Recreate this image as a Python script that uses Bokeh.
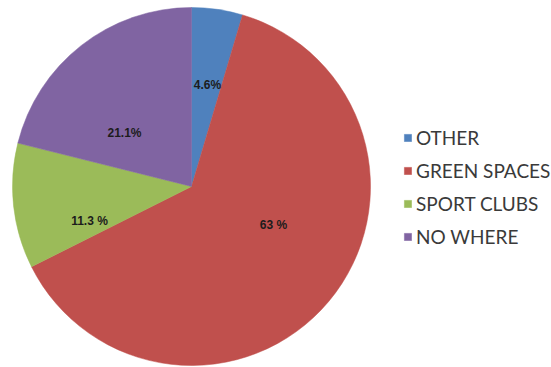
import math
from bokeh.plotting import figure
from bokeh.models import ColumnDataSource, Range1d, Legend, LegendItem
from bokeh.core.properties import value
from bokeh.embed import file_html
from bokeh.resources import INLINE

# ---- data ----
categories = ["OTHER", "GREEN SPACES", "SPORT CLUBS", "NO WHERE"]
shares = [4.6, 63.0, 11.3, 21.1]
pct_labels = ["4.6%", "63 %", "11.3 %", "21.1%"]
colors = ["#4F81BD", "#C0504D", "#9BBB59", "#8064A2"]

# ---- layout constants (pixels) ----
W, H = 551, 367
CX, CY = 191, 181
R = 179
# label offsets from the pie centre (layout only)
label_dx = [16, 82, -102, -67]
label_dy = [102, -38, -34, 54]

total = sum(shares)
starts, ends = [], []
cum = 0.0
for s in shares:
    a0 = math.radians(90 - cum / total * 360)
    cum += s
    a1 = math.radians(90 - cum / total * 360)
    starts.append(a0)
    ends.append(a1)

src = ColumnDataSource(dict(
    cat=categories, share=shares, color=colors,
    start=starts, end=ends,
    x=[CX] * len(shares), y=[CY] * len(shares),
))

p = figure(width=W, height=H, output_backend="svg", toolbar_location=None,
           x_range=Range1d(0, W), y_range=Range1d(0, H), min_border=0,
           outline_line_color=None, background_fill_color="white",
           border_fill_color="white")
p.axis.visible = False
p.grid.visible = False

r = p.wedge(x="x", y="y", radius=R, start_angle="start", end_angle="end",
            direction="clock", fill_color="color", line_color="color",
            line_width=0.5, source=src)

lab_src = ColumnDataSource(dict(
    x=[CX + d for d in label_dx], y=[CY + d for d in label_dy], text=pct_labels,
))
p.text(x="x", y="y", text="text", source=lab_src, text_align="center",
       text_baseline="middle", text_font=value("Liberation Sans"),
       text_font_size="12px", text_font_style="bold", text_color="#1c1c1c")

items = [LegendItem(label=c, renderers=[r], index=i) for i, c in enumerate(categories)]
legend = Legend(items=items, location=(403, 119), orientation="vertical",
                glyph_width=9, glyph_height=9, label_height=22, spacing=10,
                label_standoff=4, padding=0, margin=0,
                label_text_font="Lato", label_text_font_size="19px",
                label_text_color="#3a3a3a", border_line_color=None,
                background_fill_alpha=0)
p.add_layout(legend, "center")

open("out.html", "w").write(file_html(p, INLINE))
